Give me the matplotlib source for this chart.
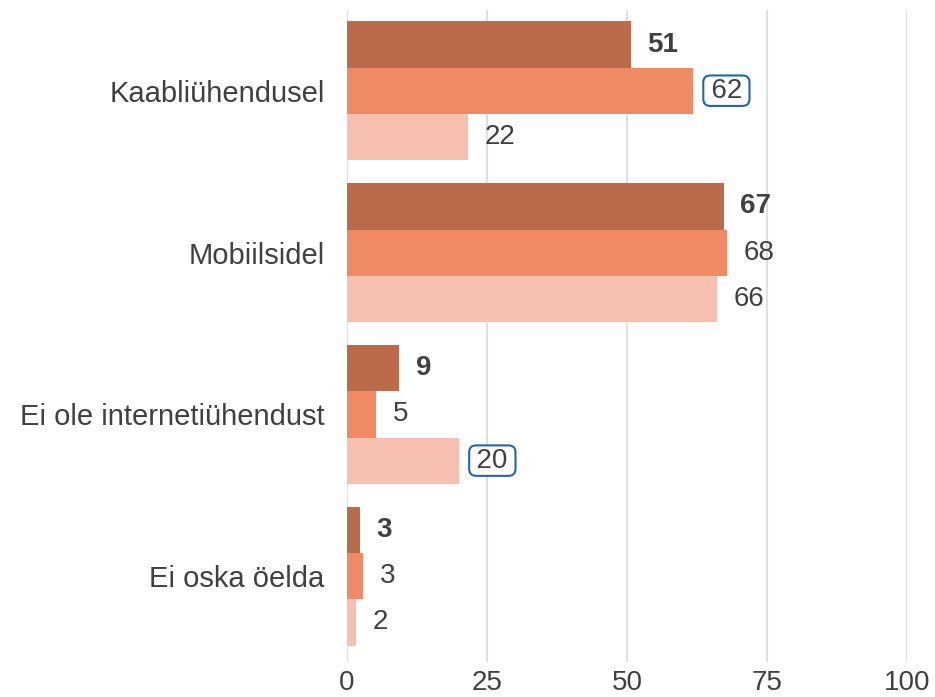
import matplotlib.pyplot as plt
import numpy as np

plt.rcParams.update({'font.family': ['Liberation Sans', 'DejaVu Sans'], 'font.size': 20})

categories = ['Kaabliühendusel', 'Mobiilsidel', 'Ei ole internetiühendust', 'Ei oska öelda']
# three series per category (top -> bottom within group)
series_a = [50.7, 67.3, 9.3, 2.3]
series_b = [61.8, 67.9, 5.2, 2.9]
series_c = [21.6, 66.1, 20.0, 1.6]
labels_a = ['51', '67', '9', '3']
labels_b = ['62', '68', '5', '3']
labels_c = ['22', '66', '20', '2']
# which labels are highlighted with a box: (series index, category index)
boxed = [(1, 0), (2, 2)]

COLS = ['#BB6B4A', '#F08A64', '#F6BFB0']
TXT = '#404040'

fig = plt.figure(figsize=(9.35, 6.97), dpi=100)
ax = fig.add_axes([0.371, 0.050, 0.599, 0.936])

y = np.arange(len(categories))
h = 0.285
series = [series_a, series_b, series_c]
labels = [labels_a, labels_b, labels_c]
for k, (vals, labs) in enumerate(zip(series, labels)):
    yy = y + (k - 1) * h
    ax.barh(yy, vals, height=h, color=COLS[k], zorder=3)
    for j, (v, lb) in enumerate(zip(vals, labs)):
        if (k, j) in boxed:
            ax.annotate('\u2009' + lb + '\u2009', (v, yy[j]), xytext=(9, 0),
                        textcoords='offset points', ha='left', va='center',
                        color=TXT, fontsize=20,
                        bbox=dict(boxstyle='round,pad=0.08,rounding_size=0.25',
                                  fc='white', ec='#2166AC', lw=1.5))
        else:
            ax.annotate(lb, (v, yy[j]), xytext=(12, 0), textcoords='offset points',
                        ha='left', va='center', color=TXT, fontsize=20,
                        fontweight='bold' if k == 0 else 'normal')

ax.set_xlim(0, 100)
ax.set_ylim(3.53, -0.5)
ax.set_xticks([0, 25, 50, 75, 100])
ax.set_yticks(y)
ax.set_yticklabels(categories, fontsize=21)
ax.tick_params(axis='both', length=0, colors=TXT)
ax.tick_params(axis='x', labelsize=20, pad=6)
ax.tick_params(axis='y', pad=16)
ax.grid(axis='x', color='#E0E0E0', lw=1.5, zorder=0)
for s in ax.spines.values():
    s.set_visible(False)

fig.savefig('out.png', dpi=100)
